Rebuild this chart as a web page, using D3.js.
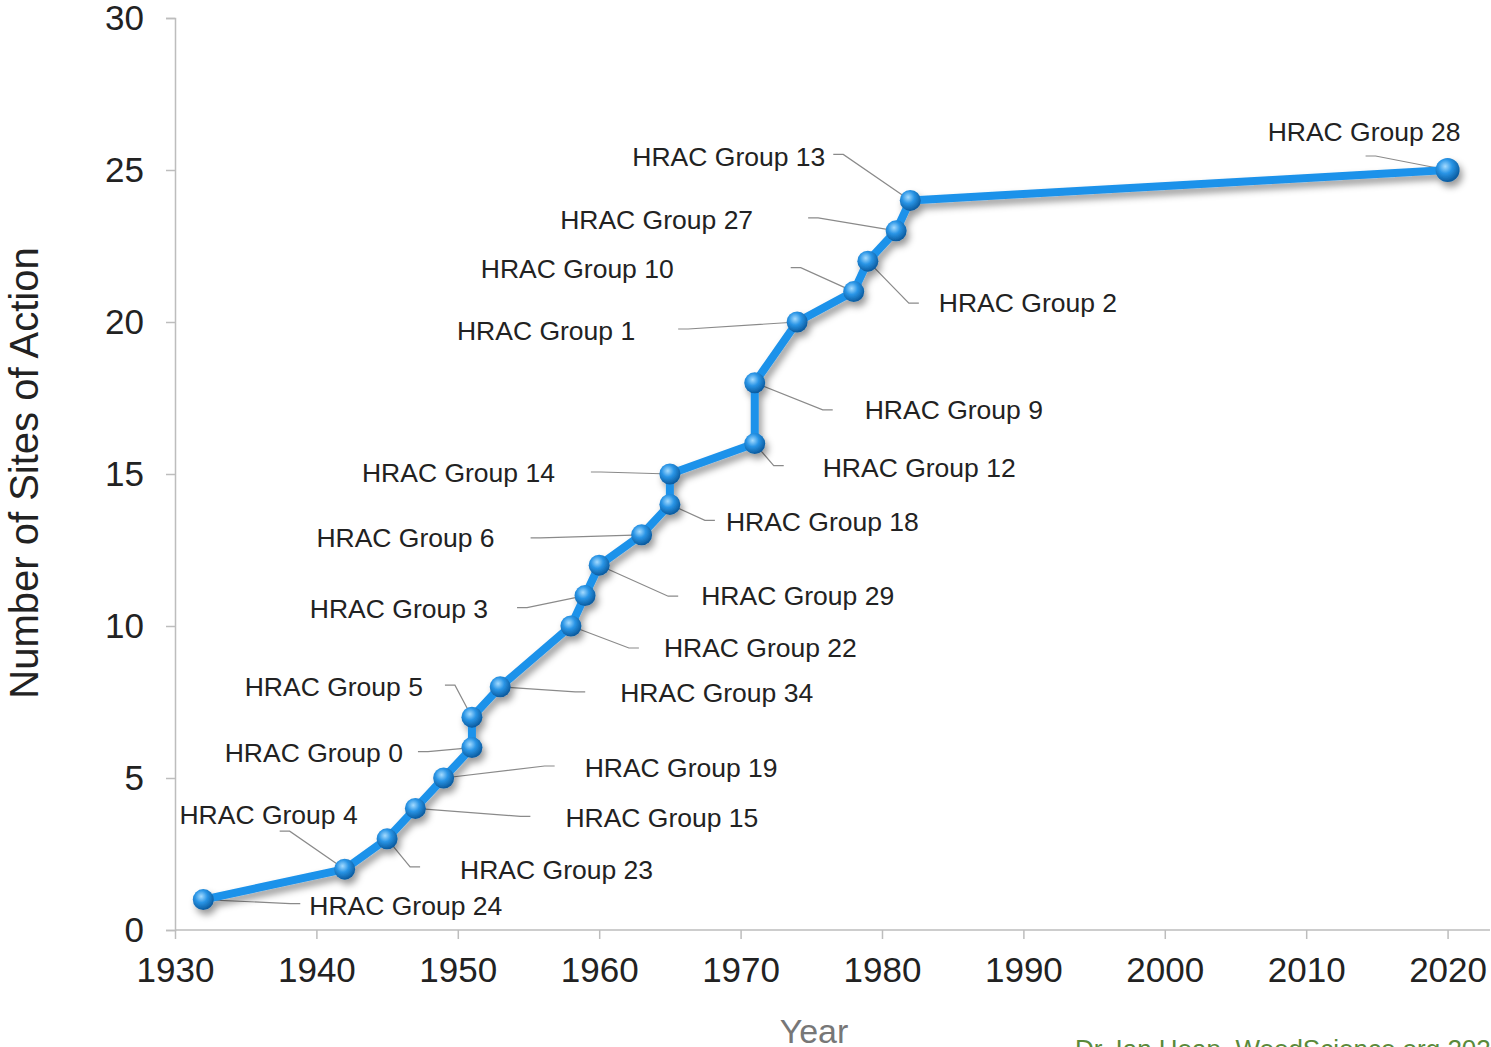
<!DOCTYPE html>
<html>
<head>
<meta charset="utf-8">
<script src="https://cdn.jsdelivr.net/npm/d3@7"></script>
<style>
  body { margin: 0; background: #fff; }
  svg { display: block; font-family: "Liberation Sans", Arial, sans-serif; }
</style>
</head>
<body>
<svg id="chart" width="1491" height="1047"></svg>
<script>
// introduction year of each herbicide site of action (HRAC group)
const years  = [1932, 1942, 1945, 1947, 1949, 1951, 1951, 1953, 1958, 1959, 1960, 1963, 1965, 1965, 1971, 1971, 1974, 1978, 1979, 1981, 1982, 2020];
const counts = [1, 2, 3, 4, 5, 6, 7, 8, 10, 11, 12, 13, 14, 15, 16, 18, 20, 21, 22, 23, 24, 25];
const groups = ['HRAC Group 24', 'HRAC Group 4', 'HRAC Group 23', 'HRAC Group 15', 'HRAC Group 19',
  'HRAC Group 0', 'HRAC Group 5', 'HRAC Group 34', 'HRAC Group 22', 'HRAC Group 3', 'HRAC Group 29',
  'HRAC Group 6', 'HRAC Group 18', 'HRAC Group 14', 'HRAC Group 12', 'HRAC Group 9', 'HRAC Group 1',
  'HRAC Group 10', 'HRAC Group 2', 'HRAC Group 27', 'HRAC Group 13', 'HRAC Group 28'];
const xTicks = [1930, 1940, 1950, 1960, 1970, 1980, 1990, 2000, 2010, 2020];
const yTicks = [0, 5, 10, 15, 20, 25, 30];

// label placement relative to its point: [anchor, textDx, textDy, leaderDx, leaderDy]
const labelLayout = [
  ['start', 106, 6, 97, 4], ['end', 13, -54, -65, -38], ['start', 73, 31, 33, 28],
  ['start', 150, 9, 115, 8], ['start', 141, -10, 111, -12], ['end', -69, 5, -54, 4],
  ['end', -49, -30, -27, -32], ['start', 120, 6, 85, 5], ['start', 93, 22, 68, 22],
  ['end', -97, 13, -68, 12], ['start', 102, 31, 79, 31], ['end', -147, 3, -111, 3],
  ['start', 56, 17, 45, 16], ['end', -115, -1, -79, -2], ['start', 68, 24, 29, 22],
  ['start', 110, 27, 78, 27], ['end', -162, 9, -119, 7], ['end', -180, -23, -63, -24],
  ['start', 71, 42, 51, 42], ['end', -143, -11, -88, -13], ['end', -85, -44, -77, -46],
  ['end', 13, -38, -82, -14]
];

const data = years.map((y, i) => ({ year: y, count: counts[i], name: groups[i], lay: labelLayout[i] }));

const svg = d3.select('#chart');
const x = d3.scaleLinear().domain([1930, 2023]).range([175, 1490]);
const y = d3.scaleLinear().domain([0, 30]).range([930, 18]);

const defs = svg.append('defs');
const shadow = defs.append('filter').attr('id', 'shadow')
  .attr('x', '-20%').attr('y', '-20%').attr('width', '140%').attr('height', '140%');
shadow.append('feDropShadow').attr('dx', 3).attr('dy', 5).attr('stdDeviation', 3.5)
  .attr('flood-color', '#000').attr('flood-opacity', 0.4);
const ball = defs.append('radialGradient').attr('id', 'ball')
  .attr('cx', '40%').attr('cy', '35%').attr('r', '65%');
ball.append('stop').attr('offset', '0%').attr('stop-color', '#a4dbff');
ball.append('stop').attr('offset', '45%').attr('stop-color', '#2a95e6');
ball.append('stop').attr('offset', '100%').attr('stop-color', '#0a5a9e');

// axes
const xAxis = svg.append('g').attr('transform', 'translate(0,930)')
  .call(d3.axisBottom(x).tickValues(xTicks).tickFormat(d3.format('d')).tickSize(9).tickPadding(18));
const yAxis = svg.append('g').attr('transform', 'translate(175,0)')
  .call(d3.axisLeft(y).tickValues(yTicks).tickSize(9).tickPadding(22));
[xAxis, yAxis].forEach(a => {
  a.select('.domain').attr('stroke', '#bdbdbd').attr('stroke-width', 1.5);
  a.selectAll('.tick line').attr('stroke', '#bdbdbd').attr('stroke-width', 1.5);
  a.selectAll('.tick text').attr('fill', '#222').attr('font-size', 35)
    .attr('font-family', '"Liberation Sans", Arial, sans-serif');
});
xAxis.select('.domain').attr('d', 'M175,0H1490');

svg.append('text').attr('x', 814).attr('y', 1043).attr('text-anchor', 'middle')
  .attr('fill', '#777').attr('font-size', 34).text('Year');
svg.append('text').attr('transform', 'translate(38,473) rotate(-90)').attr('text-anchor', 'middle')
  .attr('fill', '#222').attr('font-size', 40).text('Number of Sites of Action');

// leader lines
svg.append('g').selectAll('path').data(data).join('path')
  .attr('fill', 'none').attr('stroke', '#8a8a8a').attr('stroke-width', 1.2)
  .attr('d', d => {
    const px = x(d.year), py = y(d.count);
    const ex = px + d.lay[3], ey = py + d.lay[4];
    const tail = d.lay[0] === 'start' ? -10 : 10;
    return `M${px},${py}L${ex + tail},${ey}L${ex},${ey}`;
  });

// line and markers
const plot = svg.append('g').attr('filter', 'url(#shadow)');
plot.append('path').datum(data)
  .attr('fill', 'none').attr('stroke', '#1d92ea').attr('stroke-width', 8)
  .attr('stroke-linejoin', 'round')
  .attr('d', d3.line().x(d => x(d.year)).y(d => y(d.count)));
plot.selectAll('circle').data(data).join('circle')
  .attr('cx', d => x(d.year)).attr('cy', d => y(d.count))
  .attr('r', (d, i) => i === data.length - 1 ? 12 : 10.5)
  .attr('fill', 'url(#ball)');

// labels
svg.append('g').selectAll('text').data(data).join('text')
  .attr('x', d => x(d.year) + d.lay[1])
  .attr('y', d => y(d.count) + d.lay[2])
  .attr('dy', '0.35em')
  .attr('text-anchor', d => d.lay[0])
  .attr('fill', '#222').attr('font-size', 26.5)
  .text(d => d.name);

svg.append('text').attr('x', 1075).attr('y', 1058).attr('fill', '#5a8a3a')
  .attr('font-size', 26).text('Dr. Ian Heap, WeedScience.org 2020');
</script>
</body>
</html>
